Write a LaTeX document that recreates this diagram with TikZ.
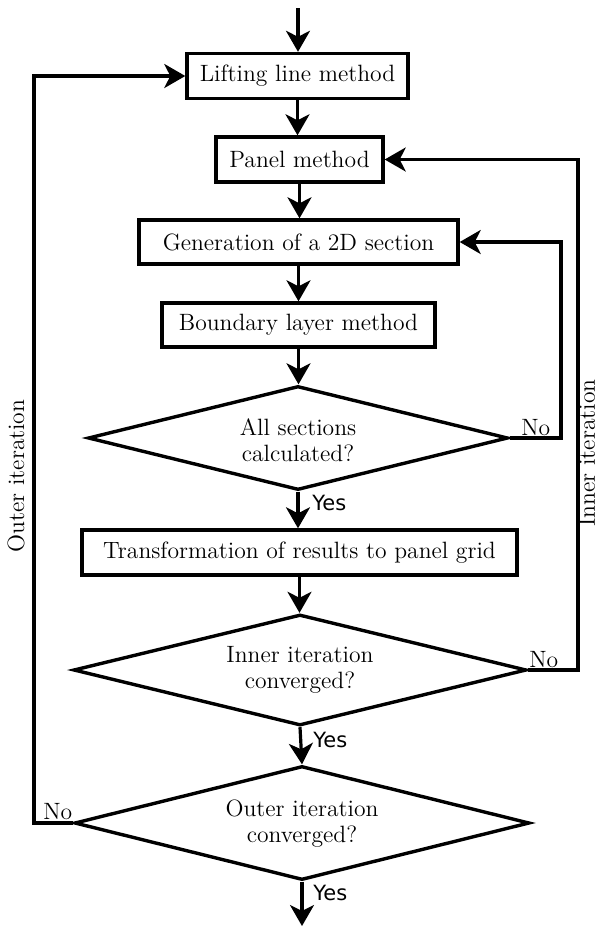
\documentclass[tikz,border=0pt]{standalone}
\usepackage{fontspec}
\newfontfamily\yesfont{DejaVu Sans}
\usetikzlibrary{shapes.geometric,arrows.meta}
\begin{document}
\begin{tikzpicture}[x=0.5pt,y=-0.5pt,
 box/.style={draw,line width=1.7pt,rectangle,inner sep=0pt,font=\fontsize{11.8}{13}\selectfont},
 dia/.style={draw,line width=1.7pt,diamond,inner sep=0pt},
 dtext/.style={align=center,font=\fontsize{11.8}{13}\selectfont,inner sep=0pt},
 arr/.style={line width=1.6pt,-{Stealth[length=10.5pt,width=12pt,inset=3pt]}},
 yes/.style={font=\yesfont\fontsize{10.5}{12}\selectfont,anchor=west,inner sep=0pt},
 no/.style={font=\fontsize{11.8}{13}\selectfont,inner sep=0pt,anchor=south west},
 side/.style={font=\fontsize{11.8}{13}\selectfont,rotate=90,inner sep=0pt}]
\useasboundingbox (0,0) rectangle (599,928);
\node[box,minimum width=110.5pt,minimum height=22.5pt] (lift) at (297.5,76) {Lifting line method};
\node[box,minimum width=83.5pt,minimum height=22.5pt] (panel) at (299.5,159.5) {Panel method};
\node[box,minimum width=159.5pt,minimum height=22pt] (gen) at (298.5,242) {Generation of a 2D section};
\node[box,minimum width=136.5pt,minimum height=22pt] (bl) at (298.5,325) {Boundary layer method};
\node[dia,minimum width=210pt,minimum height=52pt] (d1) at (298,438) {};
\node[dtext] (d1t) at (298,440) {All sections\\calculated?};
\node[box,minimum width=217.5pt,minimum height=22.5pt] (trans) at (299.5,552.5) {Transformation of results to panel grid};
\node[dia,minimum width=226.5pt,minimum height=55.5pt] (d2) at (300,670) {};
\node[dtext] (d2t) at (300,670) {Inner iteration\\converged?};
\node[dia,minimum width=227.5pt,minimum height=57pt] (d3) at (302,823) {};
\node[dtext] (d3t) at (302,824) {Outer iteration\\converged?};
\coordinate (top) at (298,8);
\coordinate (bot) at (302,926);
\coordinate (lx) at (34,0);
\coordinate (rx1) at (561,0);
\coordinate (rx2) at (578,0);
\draw[arr] (top) -- (top |- lift.north);
\draw[arr] (lift.south) -- (lift.south |- panel.north);
\draw[arr] (panel.south) -- (panel.south |- gen.north);
\draw[arr] (gen.south) -- (gen.south |- bl.north);
\draw[arr] (bl.south) -- (bl.south |- d1.north);
\draw[arr] (d1.south) -- (d1.south |- trans.north);
\draw[arr] (trans.south) -- (trans.south |- d2.north);
\draw[arr] (d2.south) -- (d3.north);
\draw[arr] (d3.south) -- (bot);
\draw[arr] (d1.east) -- (d1.east -| rx1) |- (gen.east);
\draw[arr] (d2.east) -- (d2.east -| rx2) |- (panel.east);
\draw[arr] (d3.west) -- (d3.west -| lx) |- (lift.west);
\node[no] (no1) at (521,436) {No};
\node[no] (no2) at (529,668) {No};
\node[no] (no3) at (43,820) {No};
\node[yes] (yes1) at (312,503) {Yes};
\node[yes] (yes2) at (313,740) {Yes};
\node[yes] (yes3) at (313,893) {Yes};
\node[side] (outer) at (16,476) {Outer iteration};
\node[side] (inner) at (587,453) {Inner iteration};
\end{tikzpicture}
\end{document}
